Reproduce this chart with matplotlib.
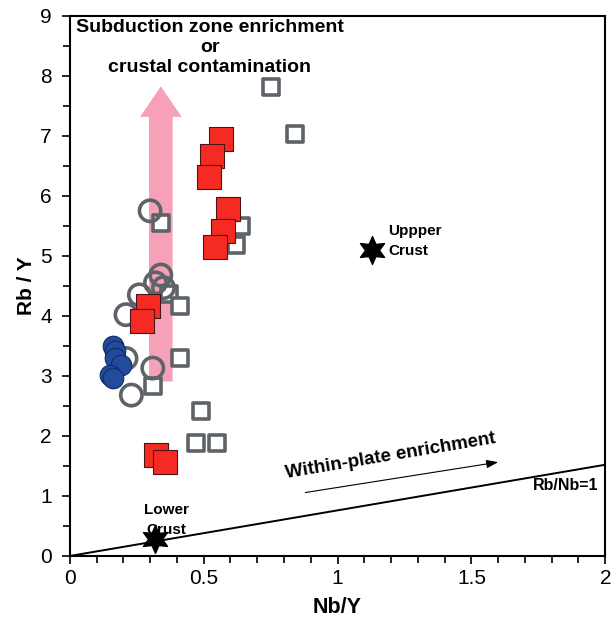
import matplotlib
matplotlib.use("Agg")
import matplotlib.pyplot as plt
from matplotlib.ticker import MultipleLocator

plt.rcParams['font.family'] = ['Liberation Sans', 'DejaVu Sans']

# Grey open squares
sq_open_x = [0.75, 0.84, 0.34, 0.64, 0.62, 0.37, 0.41, 0.41, 0.31, 0.49, 0.47, 0.55]
sq_open_y = [7.82, 7.03, 5.55, 5.49, 5.18, 4.37, 4.17, 3.29, 2.83, 2.42, 1.88, 1.88]

# Grey open circles
ci_open_x = [0.30, 0.34, 0.32, 0.35, 0.26, 0.21, 0.21, 0.31, 0.23]
ci_open_y = [5.75, 4.68, 4.55, 4.47, 4.35, 4.02, 3.29, 3.13, 2.68]

# Red filled squares
sq_red_x = [0.563, 0.533, 0.521, 0.592, 0.573, 0.542, 0.293, 0.271, 0.321, 0.355]
sq_red_y = [6.94, 6.67, 6.31, 5.78, 5.41, 5.14, 4.17, 3.92, 1.68, 1.56]

# Blue filled circles
ci_blue_x = [0.16, 0.17, 0.17, 0.19, 0.15, 0.16]
ci_blue_y = [3.50, 3.42, 3.30, 3.18, 3.02, 2.97]

# Crustal reference compositions
upper_crust = (1.13, 5.10)
lower_crust = (0.32, 0.28)

# Rb/Nb = 1 reference line end points
ref_x = [0.0, 2.0]
ref_y = [0.0, 1.52]

fig = plt.figure(figsize=(6.12, 6.30), dpi=100)
ax = fig.add_axes([0.114, 0.1175, 0.875, 0.8575])
ax.set_xlim(0, 2)
ax.set_ylim(0, 9)

# Enrichment arrow behind the data
ax.annotate("", xy=(0.34, 7.87), xytext=(0.34, 2.86),
            arrowprops=dict(arrowstyle="simple,head_width=3.0,head_length=2.2,tail_width=1.7",
                            color="#f7a1b8", lw=0), zorder=1)

ax.plot(ref_x, ref_y, color="black", lw=1.4, zorder=2)

grey = "#5d6368"
ax.scatter(sq_open_x, sq_open_y, marker="s", s=135, facecolors="white",
           edgecolors=grey, linewidths=2.6, zorder=3)
ax.scatter(ci_open_x, ci_open_y, marker="o", s=235, facecolors="none",
           edgecolors=grey, linewidths=2.6, zorder=3)
ax.scatter(sq_red_x, sq_red_y, marker="s", s=280, facecolors="#f52a22",
           edgecolors="#4a1414", linewidths=0.8, zorder=4)
ax.scatter(ci_blue_x, ci_blue_y, marker="o", s=220, facecolors="#234b9c",
           edgecolors="#102a66", linewidths=0.8, zorder=4)

ax.scatter([upper_crust[0], lower_crust[0]], [upper_crust[1], lower_crust[1]],
           marker=(6, 1, 0), s=400, color="black", zorder=5)

ax.text(1.19, 5.25, "Uppper\nCrust", fontsize=11, fontweight="bold",
        ha="left", va="center", linespacing=1.5)
ax.text(0.36, 0.60, "Lower\nCrust", fontsize=11, fontweight="bold",
        ha="center", va="center", linespacing=1.5)
ax.text(0.523, 8.94, "Subduction zone enrichment\nor\ncrustal contamination",
        fontsize=14, fontweight="bold", ha="center", va="top", linespacing=1.2)

ax.annotate("", xy=(1.61, 1.57), xytext=(0.87, 1.05),
            arrowprops=dict(arrowstyle="-|>,head_width=0.25,head_length=0.7",
                            color="black", lw=0.8))
ax.text(1.20, 1.66, "Within-plate enrichment", fontsize=13.5, fontweight="bold",
        ha="center", va="center", rotation=9.5)
ax.text(1.975, 1.18, "Rb/Nb=1", fontsize=11.5, fontweight="bold",
        ha="right", va="center")

ax.set_xlabel("Nb/Y", fontsize=15.5, fontweight="bold", labelpad=6)
ax.set_ylabel("Rb / Y", fontsize=15, fontweight="bold", labelpad=3)

ax.xaxis.set_major_locator(MultipleLocator(0.5))
ax.xaxis.set_minor_locator(MultipleLocator(0.1))
ax.yaxis.set_major_locator(MultipleLocator(1))
ax.yaxis.set_minor_locator(MultipleLocator(0.5))
ax.set_xticks([0, 0.5, 1, 1.5, 2])
ax.set_xticklabels(["0", "0.5", "1", "1.5", "2"])
ax.tick_params(which="both", direction="out", width=1.2, labelsize=15,
               top=False, right=False)
ax.tick_params(axis="y", which="major", pad=7)
ax.tick_params(which="major", length=6)
ax.tick_params(which="minor", length=5)
for sp in ax.spines.values():
    sp.set_linewidth(1.5)

fig.savefig("out.png", dpi=100)
